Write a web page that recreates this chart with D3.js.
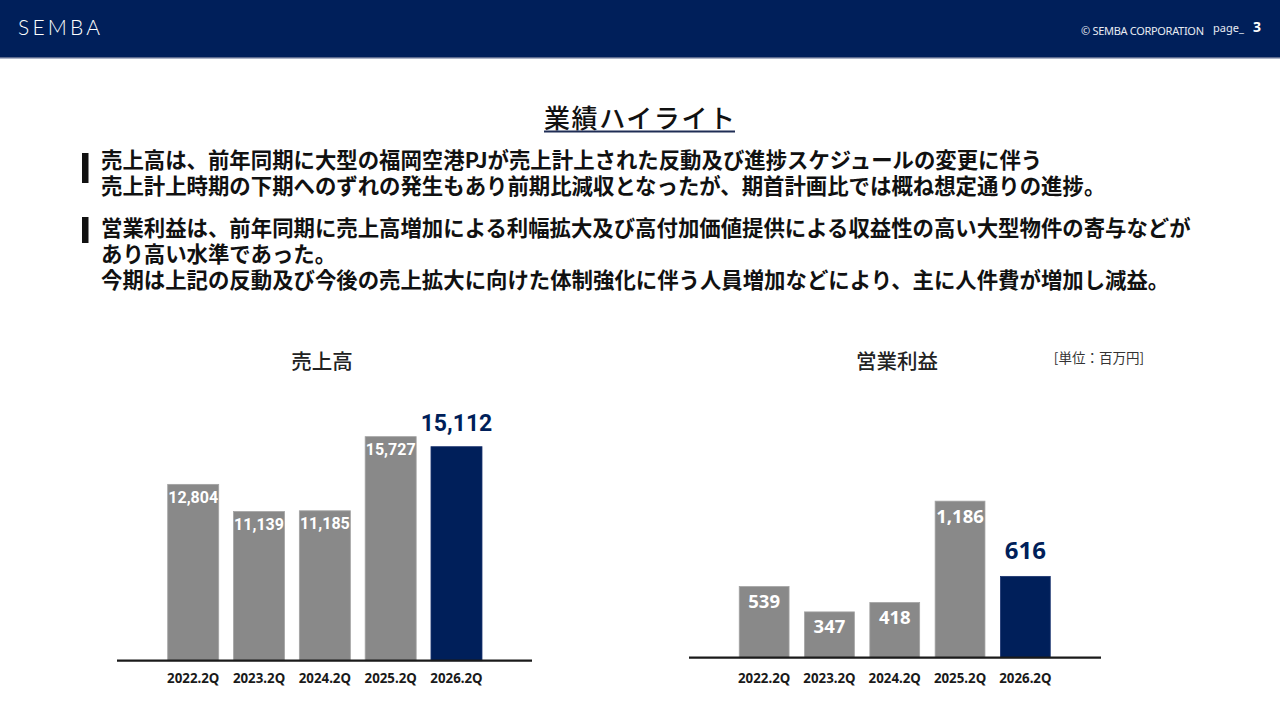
<!DOCTYPE html>
<html>
<head>
<meta charset="utf-8">
<script src="https://cdn.jsdelivr.net/npm/d3@7"></script>
<style>
  html, body { margin: 0; padding: 0; background: #fff; }
  svg { display: block; }
</style>
</head>
<body>
<div id="slide"></div>
<script>
const periods = ["2022.2Q", "2023.2Q", "2024.2Q", "2025.2Q", "2026.2Q"];
const sales = [12804, 11139, 11185, 15727, 15112];
const profit = [539, 347, 418, 1186, 616];

const pageTitle = "業績ハイライト";
const bullets = [
    ["売上高は、前年同期に大型の福岡空港PJが売上計上された反動及び進捗スケジュールの変更に伴う",
     "売上計上時期の下期へのずれの発生もあり前期比減収となったが、期首計画比では概ね想定通りの進捗。"],
    ["営業利益は、前年同期に売上高増加による利幅拡大及び高付加価値提供による収益性の高い大型物件の寄与などが",
     "あり高い水準であった。",
     "今期は上記の反動及び今後の売上拡大に向けた体制強化に伴う人員増加などにより、主に人件費が増加し減益。"]
];

const navy = "#001f5a";
const gray = "#898989";
const jp = "'Noto Sans CJK JP', 'Noto Sans', sans-serif";

const svg = d3.select("#slide")
    .append("svg")
    .attr("width", 1280)
    .attr("height", 720);

// header band
svg.append("rect").attr("x", 0).attr("y", 0).attr("width", 1280).attr("height", 57).attr("fill", navy);
svg.append("rect").attr("x", 0).attr("y", 57).attr("width", 1280).attr("height", 1.5).attr("fill", "#5d6b8f");

svg.append("text")
    .attr("x", 18).attr("y", 35)
    .attr("textLength", 86)
    .style("font-family", "Lato, 'Noto Sans', sans-serif")
    .style("font-weight", 300)
    .style("font-size", "21px")
    .style("letter-spacing", "4px")
    .attr("fill", "#fff")
    .text("SEMBA");

svg.append("text")
    .attr("x", 1081).attr("y", 35)
    .attr("textLength", 123)
    .style("font-family", "'Noto Sans', sans-serif")
    .style("font-size", "11px")
    .attr("fill", "#e8ebf2")
    .text("© SEMBA CORPORATION");

svg.append("text")
    .attr("x", 1213).attr("y", 32)
    .style("font-family", "'Noto Sans', sans-serif")
    .style("font-size", "11px")
    .attr("fill", "#e8ebf2")
    .text("page_");

svg.append("text")
    .attr("x", 1253).attr("y", 32)
    .style("font-family", "'Noto Sans', sans-serif")
    .style("font-weight", 700)
    .style("font-size", "14px")
    .attr("fill", "#fff")
    .text("3");

// page title
svg.append("text")
    .attr("x", 544).attr("y", 128)
    .attr("textLength", 191)
    .style("font-family", jp)
    .style("font-weight", 500)
    .style("font-size", "26px")
    .attr("fill", "#111")
    .text(pageTitle);
svg.append("line")
    .attr("x1", 544).attr("x2", 735)
    .attr("y1", 131.5).attr("y2", 131.5)
    .attr("stroke", "#1f2d55")
    .attr("stroke-width", 1.8);

// bullet paragraphs
const blockTop = [168, 236];
const lineGap = 26;
const barSpan = [[153, 183], [217, 243]];

bullets.forEach((lines, i) => {
    svg.append("rect")
        .attr("x", 82).attr("y", barSpan[i][0])
        .attr("width", 6.5).attr("height", barSpan[i][1] - barSpan[i][0])
        .attr("fill", "#111");
    svg.append("g").selectAll("text")
        .data(lines)
        .enter().append("text")
        .attr("x", 101)
        .attr("y", (d, j) => blockTop[i] + j * lineGap)
        .style("font-family", jp)
        .style("font-weight", 700)
        .style("font-size", "21.4px")
        .attr("fill", "#111")
        .text(d => d);
});

// unit note
svg.append("text")
    .attr("x", 1144).attr("y", 363)
    .attr("text-anchor", "end")
    .style("font-family", jp)
    .style("font-size", "13.5px")
    .attr("fill", "#333")
    .text("[単位：百万円]");

function drawChart(opts) {
    const data = periods.map((p, i) => ({ period: p, value: opts.values[i] }));
    const last = data.length - 1;

    const x = d3.scaleBand()
        .domain(periods)
        .range(opts.xRange)
        .paddingInner(opts.pad)
        .paddingOuter(opts.pad / 2);

    const y = d3.scaleLinear()
        .domain(opts.yDomain)
        .range(opts.yRange);

    const g = svg.append("g");

    g.append("text")
        .attr("x", opts.titleX).attr("y", 369)
        .attr("text-anchor", "middle")
        .style("font-family", jp)
        .style("font-weight", 500)
        .style("font-size", "20.5px")
        .attr("fill", "#222")
        .text(opts.title);

    g.selectAll("rect.bar")
        .data(data)
        .enter().append("rect")
        .attr("class", "bar")
        .attr("x", d => x(d.period))
        .attr("y", d => y(d.value))
        .attr("width", x.bandwidth())
        .attr("height", d => y(opts.yDomain[0]) - y(d.value))
        .attr("fill", (d, i) => i === last ? navy : gray)
        .attr("stroke", (d, i) => i === last ? "#1b3470" : "#a3a3a3")
        .attr("stroke-width", 0.8);

    // labels inside the grey bars
    g.selectAll("text.inner")
        .data(data.slice(0, last))
        .enter().append("text")
        .attr("class", "inner")
        .attr("x", d => x(d.period) + x.bandwidth() / 2)
        .attr("y", d => y(d.value) + opts.innerOffset)
        .attr("text-anchor", "middle")
        .style("font-family", opts.numFont)
        .style("font-weight", 700)
        .style("font-size", opts.innerSize)
        .attr("fill", "#fff")
        .text(d => d3.format(",")(d.value));

    // highlighted current value
    g.append("text")
        .datum(data[last])
        .attr("x", d => x(d.period) + x.bandwidth() / 2)
        .attr("y", d => y(d.value) - opts.topOffset)
        .attr("text-anchor", "middle")
        .style("font-family", opts.numFont)
        .style("font-weight", 700)
        .style("font-size", opts.topSize)
        .attr("fill", navy)
        .text(d => d3.format(",")(d.value));

    g.append("line")
        .attr("x1", opts.lineX[0]).attr("x2", opts.lineX[1])
        .attr("y1", y(opts.yDomain[0])).attr("y2", y(opts.yDomain[0]))
        .attr("stroke", "#1a1a1a")
        .attr("stroke-width", 2.2);

    const axis = g.append("g")
        .attr("transform", `translate(0,${y(opts.yDomain[0])})`)
        .call(d3.axisBottom(x).tickSize(0).tickPadding(opts.tickPad));
    axis.select(".domain").remove();
    axis.selectAll("text")
        .style("font-family", "'Noto Sans', sans-serif")
        .style("font-weight", 700)
        .style("font-size", "13.3px")
        .attr("fill", "#1a1a1a");
}

drawChart({
    title: "売上高",
    titleX: 322,
    values: sales,
    xRange: [160.3, 489.4],
    pad: 0.225,
    yDomain: [2000, 16000],
    yRange: [660.7, 432.2],
    lineX: [117, 532],
    numFont: "Roboto, 'Noto Sans', sans-serif",
    innerSize: "16px",
    innerOffset: 18.5,
    topSize: "23px",
    topOffset: 15.5,
    tickPad: 13
});

drawChart({
    title: "営業利益",
    titleX: 897,
    values: profit,
    xRange: [731.5, 1058],
    pad: 0.237,
    yDomain: [0, 1200],
    yRange: [657.7, 499.3],
    lineX: [689, 1101],
    numFont: "'Noto Sans', sans-serif",
    innerSize: "18.5px",
    innerOffset: 21.5,
    topSize: "24px",
    topOffset: 17.5,
    tickPad: 16
});
</script>
</body>
</html>
